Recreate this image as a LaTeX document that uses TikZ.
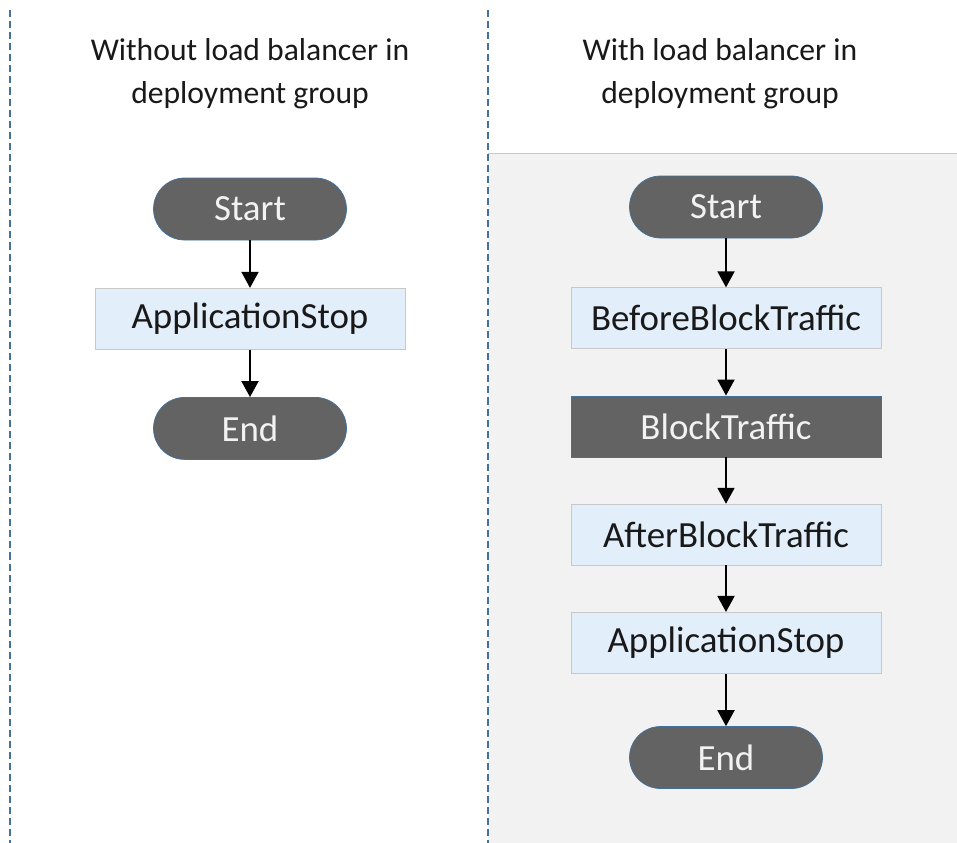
\documentclass[tikz,border=0pt]{standalone}
\usepackage{fontspec}
\setmainfont{Carlito}
\usetikzlibrary{positioning,arrows.meta}

\definecolor{darkfill}{RGB}{99,99,99}
\definecolor{darkedge}{RGB}{65,113,156}
\definecolor{lightfill}{RGB}{226,238,250}
\definecolor{lightedge}{RGB}{200,200,200}
\definecolor{panelgray}{RGB}{242,242,242}
\definecolor{dashblue}{RGB}{65,113,156}

\tikzset{
  pill/.style={draw=darkedge, fill=darkfill, text=white!95!black, rounded corners=0.62cm,
    minimum width=3.86cm, minimum height=1.24cm, inner sep=0pt, font=\fontsize{21}{25}\selectfont},
  stepbox/.style={draw=lightedge, fill=lightfill, text=black!90, minimum width=6.2cm,
    minimum height=1.22cm, inner sep=0pt, font=\fontsize{21}{25}\selectfont},
  darkbox/.style={stepbox, draw=darkedge, fill=darkfill, text=white!95!black},
  flow/.style={-{Triangle[length=0.32cm,width=0.34cm]}, line width=1.1pt},
  divider/.style={dashblue, line width=1.1pt, dash pattern=on 4pt off 2.3pt},
  heading/.style={align=center, text=black!90, font=\fontsize{18}{24.4}\selectfont}
}

\begin{document}
\begin{tikzpicture}[node distance=0.95cm]
\useasboundingbox (0,0) rectangle (19.14,-16.86);

% Background panel and dividers
\fill[panelgray] (9.76,-3.06) rectangle (19.14,-16.86);
\draw[lightedge] (9.76,-3.06) -- (19.14,-3.06);
\draw[divider] (0.2,-0.2) -- (0.2,-16.86);
\draw[divider] (9.76,-0.2) -- (9.76,-16.86);

% Headings
\node[heading] (titleL) at (5.0,-1.47) {Without load balancer in\\deployment group};
\node[heading] (titleR) at (14.4,-1.47) {With load balancer in\\deployment group};

% Left flow
\node[pill] (startL) at (5.0,-4.18) {Start};
\node[stepbox, below=of startL] (stopL) {ApplicationStop};
\node[pill, below=of stopL] (endL) {End};

% Right flow
\node[pill] (startR) at (14.52,-4.14) {Start};
\node[stepbox, below=0.98cm of startR] (before) {BeforeBlockTraffic};
\node[darkbox, below=0.93cm of before] (block) {BlockTraffic};
\node[stepbox, below=0.93cm of block] (after) {AfterBlockTraffic};
\node[stepbox, below=0.93cm of after] (stopR) {ApplicationStop};
\node[pill, below=1.05cm of stopR] (endR) {End};

% Arrows
\draw[flow] (startL) -- (stopL);
\draw[flow] (stopL) -- (endL);
\draw[flow] (startR) -- (before);
\draw[flow] (before) -- (block);
\draw[flow] (block) -- (after);
\draw[flow] (after) -- (stopR);
\draw[flow] (stopR) -- (endR);

\end{tikzpicture}
\end{document}
